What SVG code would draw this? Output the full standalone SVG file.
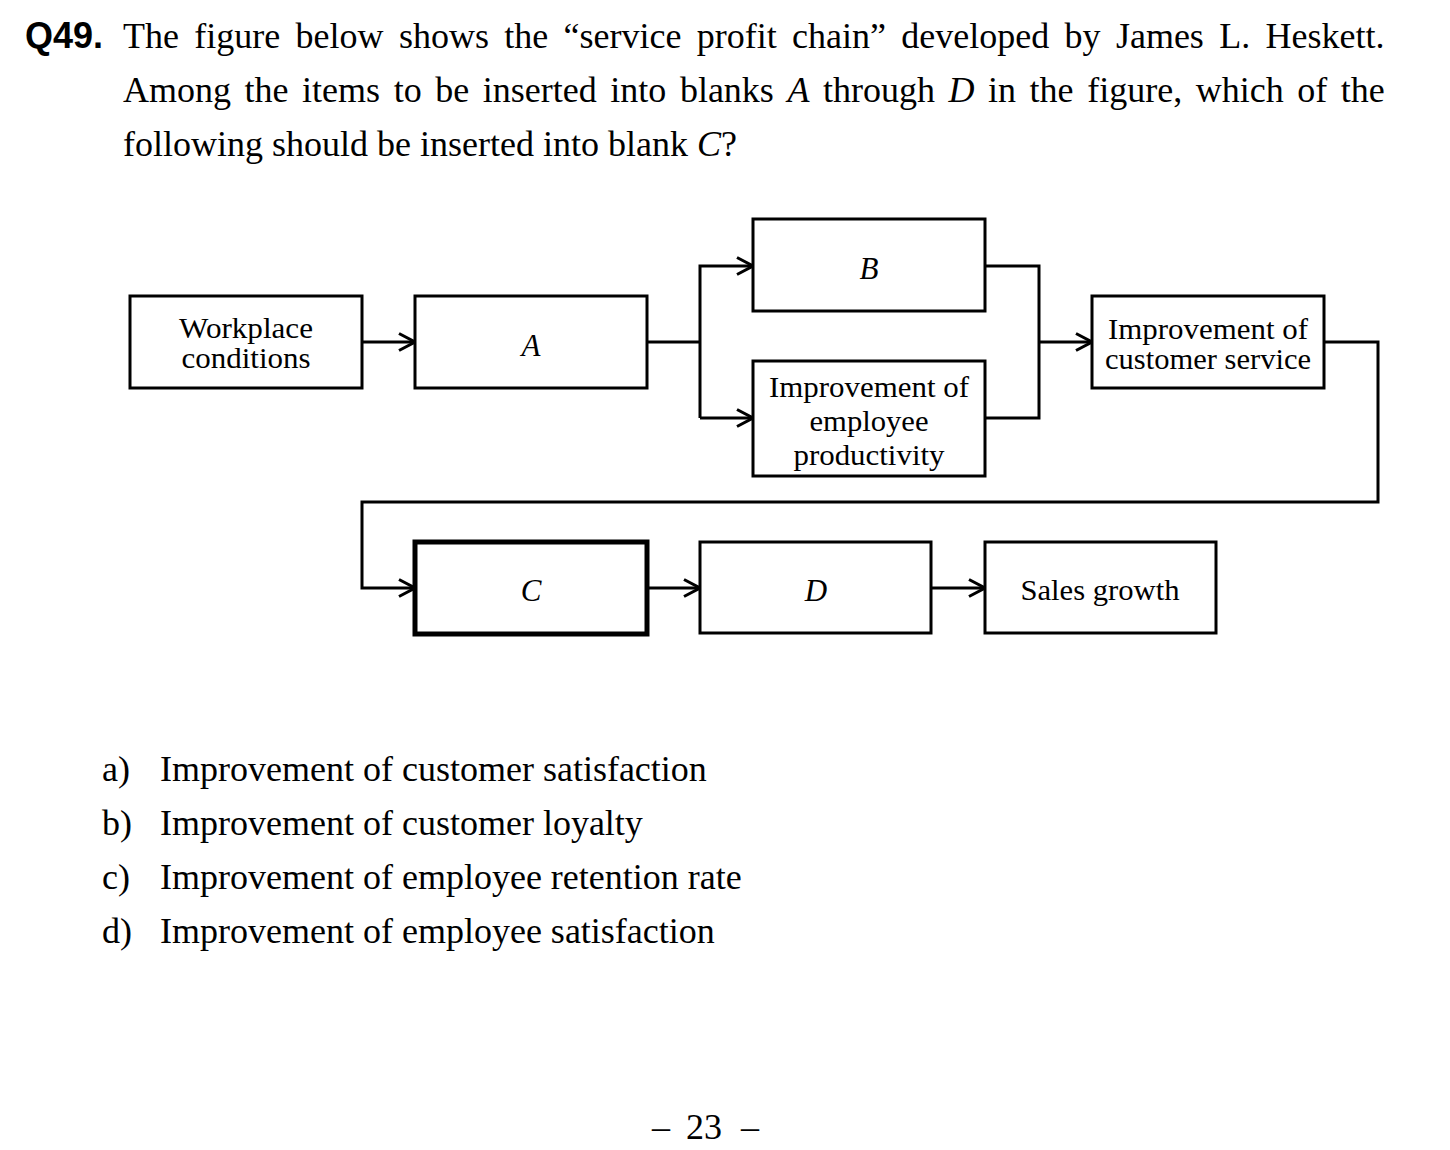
<svg xmlns="http://www.w3.org/2000/svg" width="1450" height="1150" viewBox="0 0 1450 1150">
  <style>
    .body { font-family: "Liberation Serif", "Times New Roman", serif; font-size: 36px; fill: #000; }
    .num { font-family: "Liberation Sans", Arial, sans-serif; font-size: 36px; font-weight: bold; fill: #000; }
    .lbl { font-family: "Liberation Serif", "Times New Roman", serif; font-size: 29px; fill: #000; text-anchor: middle; }
    .it { font-style: italic; font-size: 31px; }
    .body .it { font-size: 36px; }
    .box { fill: #fff; stroke: #000; stroke-width: 3; }
    .box-bold { fill: #fff; stroke: #000; stroke-width: 5; }
    .wire { fill: none; stroke: #000; stroke-width: 3; }
  </style>
  <defs>
    <marker id="arrow" viewBox="0 0 18 20" refX="17" refY="10" markerWidth="18" markerHeight="20" markerUnits="userSpaceOnUse" orient="auto">
      <path d="M1,1.5 L17,10 L1,18.5" fill="none" stroke="#000" stroke-width="3"/>
    </marker>
  </defs>
  <rect width="1450" height="1150" fill="#fff"/>

  <!-- question text (justified lines: words placed individually) -->
  <text class="num" x="25" y="48">Q49.</text>
  <text class="body" y="48"><tspan x="123">The</tspan><tspan x="194.3">figure</tspan><tspan x="295.6">below</tspan><tspan x="398.9">shows</tspan><tspan x="504.2">the</tspan><tspan x="563.5">“service</tspan><tspan x="696.7">profit</tspan><tspan x="792">chain”</tspan><tspan x="901.3">developed</tspan><tspan x="1064.6">by</tspan><tspan x="1115.9">James</tspan><tspan x="1219.2">L.</tspan><tspan x="1265.5">Heskett.</tspan></text>
  <text class="body" y="102"><tspan x="123">Among</tspan><tspan x="244.6">the</tspan><tspan x="302.1">items</tspan><tspan x="393.7">to</tspan><tspan x="435.2">be</tspan><tspan x="482.8">inserted</tspan><tspan x="610.3">into</tspan><tspan x="679.9">blanks</tspan><tspan x="787.4" class="it">A</tspan><tspan x="823">through</tspan><tspan x="948.5" class="it">D</tspan><tspan x="988">in</tspan><tspan x="1029.6">the</tspan><tspan x="1087.2">figure,</tspan><tspan x="1195.7">which</tspan><tspan x="1297.3">of</tspan><tspan x="1340.8">the</tspan></text>
  <text class="body" x="123" y="156">following should be inserted into blank <tspan class="it">C</tspan>?</text>

  <!-- connectors -->
  <g id="connectors">
    <path class="wire" d="M362,342 H415" marker-end="url(#arrow)"/>
    <path class="wire" d="M647,342 H700"/>
    <path class="wire" d="M700,418 V266 H753" marker-end="url(#arrow)"/>
    <path class="wire" d="M700,418 H753" marker-end="url(#arrow)"/>
    <path class="wire" d="M985,266 H1039 V418 H985"/>
    <path class="wire" d="M1039,342 H1092" marker-end="url(#arrow)"/>
    <path class="wire" d="M1324,342 H1378 V502 H362 V588 H415" marker-end="url(#arrow)"/>
    <path class="wire" d="M647,588 H700" marker-end="url(#arrow)"/>
    <path class="wire" d="M931,588 H985" marker-end="url(#arrow)"/>
  </g>

  <!-- nodes -->
  <g id="workplace">
    <rect class="box" x="130" y="296" width="232" height="92"/>
    <text class="lbl" x="246" y="338" textLength="134" lengthAdjust="spacingAndGlyphs">Workplace</text>
    <text class="lbl" x="246" y="368" textLength="129" lengthAdjust="spacingAndGlyphs">conditions</text>
  </g>
  <g id="node-a">
    <rect class="box" x="415" y="296" width="232" height="92"/>
    <text class="lbl it" x="531" y="356">A</text>
  </g>
  <g id="node-b">
    <rect class="box" x="753" y="219" width="232" height="92"/>
    <text class="lbl it" x="869" y="279">B</text>
  </g>
  <g id="productivity">
    <rect class="box" x="753" y="361" width="232" height="115"/>
    <text class="lbl" x="869" y="397" textLength="200" lengthAdjust="spacingAndGlyphs">Improvement of</text>
    <text class="lbl" x="869" y="431" textLength="119" lengthAdjust="spacingAndGlyphs">employee</text>
    <text class="lbl" x="869" y="465" textLength="151" lengthAdjust="spacingAndGlyphs">productivity</text>
  </g>
  <g id="customer-service">
    <rect class="box" x="1092" y="296" width="232" height="92"/>
    <text class="lbl" x="1208" y="339" textLength="200" lengthAdjust="spacingAndGlyphs">Improvement of</text>
    <text class="lbl" x="1208" y="369" textLength="206" lengthAdjust="spacingAndGlyphs">customer service</text>
  </g>
  <g id="node-c">
    <rect class="box-bold" x="415" y="542" width="232" height="92"/>
    <text class="lbl it" x="531" y="601">C</text>
  </g>
  <g id="node-d">
    <rect class="box" x="700" y="542" width="231" height="91"/>
    <text class="lbl it" x="816" y="601">D</text>
  </g>
  <g id="sales-growth">
    <rect class="box" x="985" y="542" width="231" height="91"/>
    <text class="lbl" x="1100" y="600" textLength="159" lengthAdjust="spacingAndGlyphs">Sales growth</text>
  </g>

  <!-- answer choices -->
  <text class="body" x="102" y="781">a)</text>
  <text class="body" x="160" y="781">Improvement of customer satisfaction</text>
  <text class="body" x="102" y="835">b)</text>
  <text class="body" x="160" y="835">Improvement of customer loyalty</text>
  <text class="body" x="102" y="889">c)</text>
  <text class="body" x="160" y="889">Improvement of employee retention rate</text>
  <text class="body" x="102" y="943">d)</text>
  <text class="body" x="160" y="943">Improvement of employee satisfaction</text>

  <!-- page number -->
  <text class="body" x="652" y="1139">–</text>
  <text class="body" x="704" y="1139" text-anchor="middle">23</text>
  <text class="body" x="741" y="1139">–</text>
</svg>
